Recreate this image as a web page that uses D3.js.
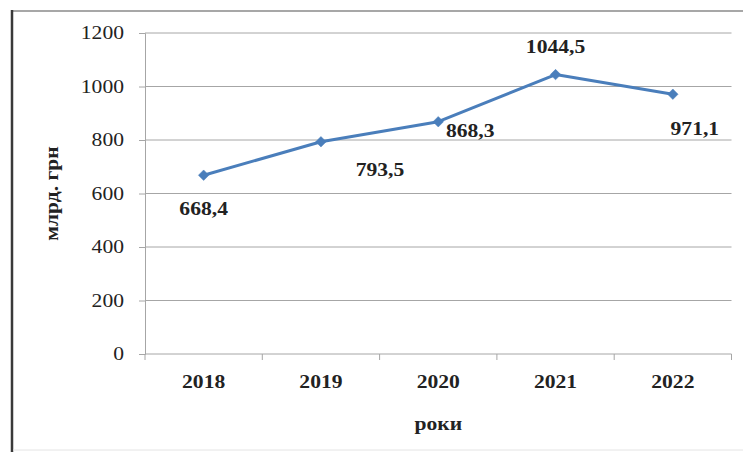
<!DOCTYPE html>
<html>
<head>
<meta charset="utf-8">
<script src="https://cdn.jsdelivr.net/npm/d3@7"></script>
<style>
  html, body { margin: 0; padding: 0; background: #fff; }
  svg { display: block; }
  text { font-family: "Liberation Serif", "Times New Roman", serif; fill: #222; }
</style>
</head>
<body>
<svg id="chart" width="743" height="452"></svg>
<script>
// Revenue by year, billion UAH
const years = ["2018", "2019", "2020", "2021", "2022"];
const values = [668.4, 793.5, 868.3, 1044.5, 971.1];
const valueLabels = ["668,4", "793,5", "868,3", "1044,5", "971,1"];
const yTicks = [0, 200, 400, 600, 800, 1000, 1200];
// label placement relative to each point: [dx, dy]
const labelOffsets = [[0, 33], [59, 28], [32, 9], [0, -28], [22, 34]];

const svg = d3.select("#chart");
const margin = { left: 145, right: 11.5, top: 33, bottom: 98 };
const width = 743, height = 452;
const stretch = 1.2; // wide serif lettering

function label(parent, x, y, str, opts = {}) {
  const rot = opts.rotate ? ` rotate(${opts.rotate})` : "";
  return parent.append("text")
    .attr("transform", `translate(${x},${y})${rot} scale(${stretch},1)`)
    .attr("dy", "0.35em")
    .attr("text-anchor", opts.anchor || "middle")
    .attr("font-size", opts.size || 18)
    .attr("font-weight", opts.bold ? "bold" : "normal")
    .text(str);
}

// frame
svg.append("line").attr("x1", 12).attr("x2", 743).attr("y1", 11).attr("y2", 11)
  .attr("stroke", "#8a8a8a").attr("stroke-width", 1.5);
svg.append("line").attr("x1", 12).attr("x2", 12).attr("y1", 10).attr("y2", 452)
  .attr("stroke", "#3a3a3a").attr("stroke-width", 2.5);
svg.append("line").attr("x1", 13).attr("x2", 743).attr("y1", 450).attr("y2", 450)
  .attr("stroke", "#e4e4e4").attr("stroke-width", 1);

const x = d3.scaleBand().domain(years)
  .range([margin.left, width - margin.right]).padding(0);
const y = d3.scaleLinear().domain([0, 1200])
  .range([height - margin.bottom, margin.top]);

// horizontal gridlines
svg.append("g").selectAll("line").data(yTicks.filter(d => d > 0)).join("line")
  .attr("x1", margin.left).attr("x2", width - margin.right)
  .attr("y1", d => y(d)).attr("y2", d => y(d))
  .attr("stroke", "#a6a6a6").attr("stroke-width", 1);

// y axis line and ticks
const yAxis = svg.append("g").attr("transform", `translate(${margin.left},0)`)
  .call(d3.axisLeft(y).tickValues(yTicks).tickSize(6).tickFormat(""));
yAxis.select(".domain").attr("stroke", "#a6a6a6");
yAxis.selectAll(".tick line").attr("stroke", "#a6a6a6");
const yLabels = svg.append("g");
yTicks.forEach(v => label(yLabels, 124, y(v), d3.format("d")(v), { anchor: "end" }));

// x axis with ticks between categories
const xAxis = svg.append("g").attr("transform", `translate(0,${y(0)})`);
xAxis.append("line").attr("x1", margin.left).attr("x2", width - margin.right)
  .attr("y1", 0).attr("y2", 0).attr("stroke", "#a6a6a6");
const bounds = years.map(d => x(d)).concat([x(years[years.length - 1]) + x.bandwidth()]);
xAxis.selectAll("line.tk").data(bounds).join("line").attr("class", "tk")
  .attr("x1", d => d).attr("x2", d => d).attr("y1", 0).attr("y2", 6)
  .attr("stroke", "#a6a6a6");
const cx = d => x(d) + x.bandwidth() / 2;
years.forEach(d => label(svg, cx(d), y(0) + 28, d, { bold: true }));

// axis titles
label(svg, 52, (y(0) + y(1200)) / 2 + 0, "млрд. грн", { bold: true, rotate: -90 });
label(svg, (margin.left + width - margin.right) / 2, 424, "роки", { bold: true });

// line + markers
const line = d3.line().x((d, i) => cx(years[i])).y(d => y(d));
svg.append("path").datum(values).attr("d", line)
  .attr("fill", "none").attr("stroke", "#4a7ebb").attr("stroke-width", 3)
  .attr("stroke-linejoin", "round");
svg.append("g").selectAll("path").data(values).join("path")
  .attr("d", d3.symbol(d3.symbolDiamond2, 70))
  .attr("transform", (d, i) => `translate(${cx(years[i])},${y(d)})`)
  .attr("fill", "#4a7ebb").attr("stroke", "#4a7ebb").attr("stroke-width", 0.5);

// value labels
const vl = svg.append("g");
values.forEach((v, i) => label(vl, cx(years[i]) + labelOffsets[i][0],
  y(v) + labelOffsets[i][1], valueLabels[i], { bold: true }));
</script>
</body>
</html>
